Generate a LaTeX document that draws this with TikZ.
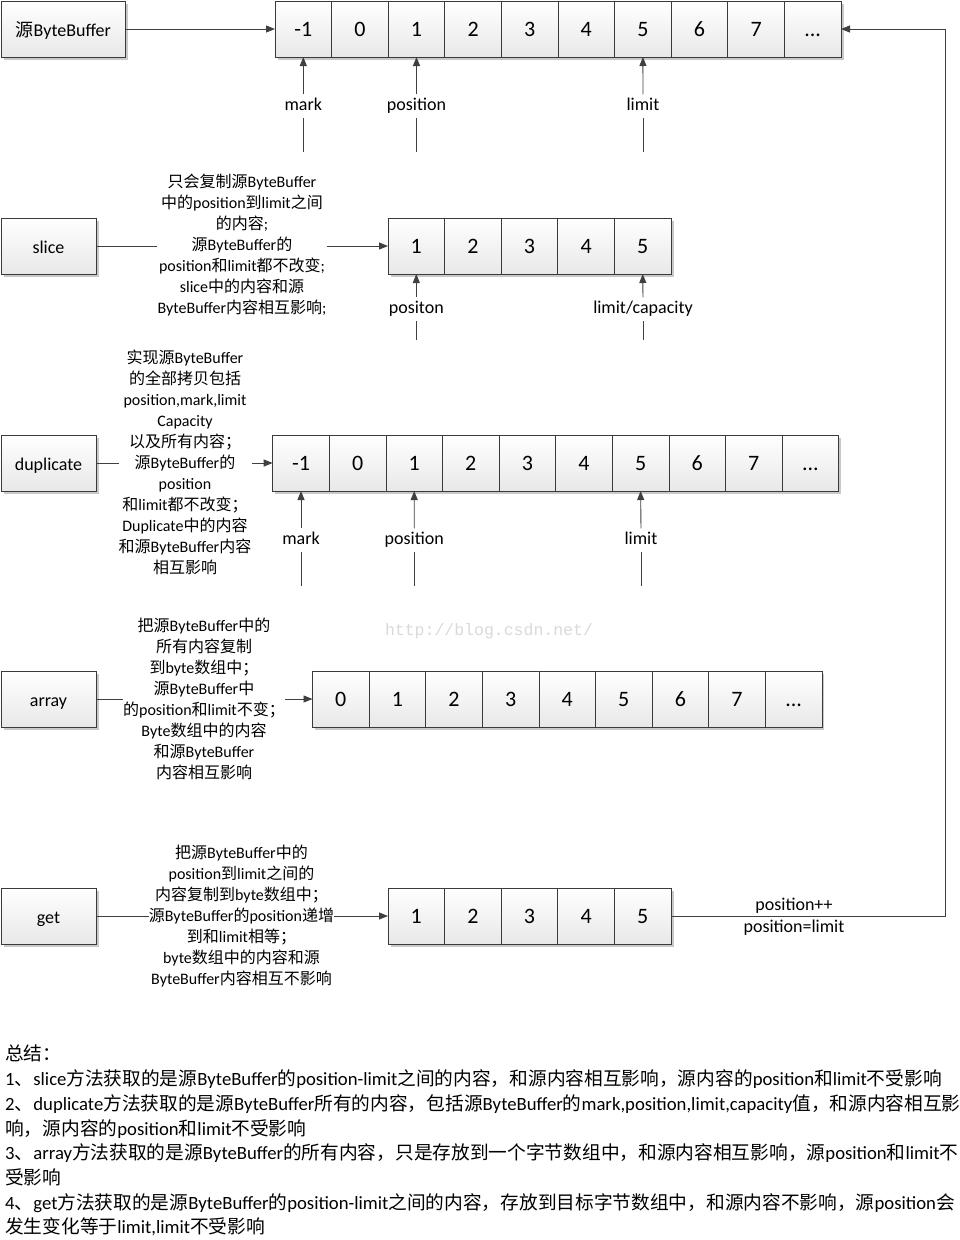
\documentclass[tikz,border=0pt]{standalone}
\usepackage{fontspec}
\setmainfont{Carlito}
\newfontfamily\cjkf{Noto Sans CJK SC}
\newfontfamily\wmf{Liberation Mono}
\usetikzlibrary{arrows.meta,shadows}
\newXeTeXintercharclass\CJKcls
\newcount\cjkc
\def\setcjkrange#1#2{\cjkc=#1\relax\loop\XeTeXcharclass\cjkc=\CJKcls\relax\ifnum\cjkc<#2\advance\cjkc by 1\repeat}
\setcjkrange{"4E00}{"9FFF}
\setcjkrange{"3000}{"303F}
\setcjkrange{"FF00}{"FFEF}
\XeTeXinterchartoks 0 \CJKcls = {\cjkf}
\XeTeXinterchartoks 4095 \CJKcls = {\cjkf}
\XeTeXinterchartoks \CJKcls 0 = {\rmfamily}
\XeTeXinterchartoks \CJKcls 4095 = {\rmfamily}
\XeTeXinterchartokenstate=1
\newcommand\tdots{...}
\definecolor{linec}{HTML}{404040}
\definecolor{cellb}{HTML}{3A3A3A}
\definecolor{wm}{HTML}{DADADA}
\tikzset{
  shad/.style={drop shadow={shadow xshift=2.5pt,shadow yshift=-2.5pt,fill=black!35,opacity=0.6}},
  cell/.style={draw=cellb,line width=0.8pt,top color=white,bottom color=black!9,shad,
    minimum width=56.6pt,minimum height=56pt,inner sep=0pt,outer sep=0pt,anchor=north west,
    text height=15pt,text depth=0pt,font=\fontsize{22}{24}\selectfont},
  lbox/.style={draw=cellb,line width=0.8pt,top color=white,bottom color=black!9,shad,
    minimum height=56pt,inner sep=0pt,outer sep=0pt,anchor=north west,
    text height=15pt,text depth=1pt,font=\fontsize{18}{20}\selectfont},
  ptr/.style={font=\fontsize{18}{20}\selectfont,inner sep=3pt,text height=13pt,text depth=4pt},
  desc/.style={align=center,font=\fontsize{16}{21}\selectfont,inner sep=0pt},
  ln/.style={draw=linec,line width=0.9pt},
  arr/.style={draw=linec,line width=0.9pt,-{Triangle[length=9pt,width=7pt]}},
  sumt/.style={anchor=base west,inner sep=0pt,font=\fontsize{18.7}{22}\selectfont},
}
\begin{document}
\begin{tikzpicture}[x=1pt,y=-1pt]
\fill[white] (0,0) rectangle (960,1240);
\useasboundingbox (0,0) rectangle (960,1240);

% ---------- row 1: source buffer ----------
\node[lbox,minimum width=124.5pt] (src) at (1,1) {源ByteBuffer};
\foreach \t [count=\i from 0] in {-1,0,1,2,3,4,5,6,7,\tdots}
  \node[cell] (r\i) at ({275+56.6*\i},1) {\t};
\draw[arr] (src.east) -- (r0.west);
\node[ptr] (pm1) at (303.3,106) {mark};
\node[ptr] (pp1) at (416.5,106) {position};
\node[ptr] (pl1) at (643,106) {limit};
\coordinate (bm1) at (303.3,152);
\coordinate (bp1) at (416.5,152);
\coordinate (bl1) at (643,152);
\draw[ln] (bm1) -- (pm1.south); \draw[arr] (pm1.north) -- (r0.south);
\draw[ln] (bp1) -- (pp1.south); \draw[arr] (pp1.north) -- (r2.south);
\draw[ln] (bl1) -- (pl1.south); \draw[arr] (pl1.north) -- (r6.south);

% ---------- row 2: slice ----------
\node[lbox,minimum width=95pt] (slice) at (1,218) {slice};
\foreach \t [count=\i from 0] in {1,2,3,4,5}
  \node[cell] (s\i) at ({388+56.6*\i},218) {\t};
\node[desc] (sd) at (242,245.5) {只会复制源ByteBuffer\\中的position到limit之间\\的内容;\\源ByteBuffer的\\position和limit都不改变;\\slice中的内容和源\\ByteBuffer内容相互影响;};
\draw[ln] (slice.east) -- (sd.west |- slice.east);
\draw[arr] (sd.east |- slice.east) -- (s0.west);
\node[ptr] (pp2) at (416.3,309) {positon};
\node[ptr] (pl2) at (643,309) {limit/capacity};
\coordinate (bp2) at (416.3,340);
\coordinate (bl2) at (643,340);
\draw[ln] (bp2) -- (pp2.south); \draw[arr] (pp2.north) -- (s0.south);
\draw[ln] (bl2) -- (pl2.south); \draw[arr] (pl2.north) -- (s4.south);

% ---------- row 3: duplicate ----------
\node[lbox,minimum width=95pt] (dup) at (1,435) {duplicate};
\foreach \t [count=\i from 0] in {-1,0,1,2,3,4,5,6,7,\tdots}
  \node[cell] (d\i) at ({272.7+56.6*\i},435) {\t};
\node[desc] (dd) at (185,462) {实现源ByteBuffer\\的全部拷贝包括\\position,mark,limit\\Capacity\\以及所有内容；\\源ByteBuffer的\\position\\和limit都不改变；\\Duplicate中的内容\\和源ByteBuffer内容\\相互影响};
\draw[ln] (dup.east) -- (dd.west |- dup.east);
\draw[arr] (dd.east |- dup.east) -- (d0.west);
\node[ptr] (pm3) at (301,540) {mark};
\node[ptr] (pp3) at (414.2,540) {position};
\node[ptr] (pl3) at (641,540) {limit};
\coordinate (bm3) at (301,586);
\coordinate (bp3) at (414.2,586);
\coordinate (bl3) at (641,586);
\draw[ln] (bm3) -- (pm3.south); \draw[arr] (pm3.north) -- (d0.south);
\draw[ln] (bp3) -- (pp3.south); \draw[arr] (pp3.north) -- (d2.south);
\draw[ln] (bl3) -- (pl3.south); \draw[arr] (pl3.north) -- (d6.south);

% watermark
\node[text=wm,font=\wmf\fontsize{16.5}{18}\selectfont,inner sep=0pt] (wmark) at (489,631) {http://blog.csdn.net/};

% ---------- row 4: array ----------
\node[lbox,minimum width=95pt] (arrb) at (1,671) {array};
\foreach \t [count=\i from 0] in {0,1,2,3,4,5,6,7,\tdots}
  \node[cell] (a\i) at ({312.5+56.6*\i},671) {\t};
\node[desc] (ad) at (204,698.5) {把源ByteBuffer中的\\所有内容复制\\到byte数组中；\\源ByteBuffer中\\的position和limit不变；\\Byte数组中的内容\\和源ByteBuffer\\内容相互影响};
\draw[ln] (arrb.east) -- (ad.west |- arrb.east);
\draw[arr] (ad.east |- arrb.east) -- (a0.west);

% ---------- row 5: get ----------
\node[lbox,minimum width=95pt] (get) at (1,888) {get};
\foreach \t [count=\i from 0] in {1,2,3,4,5}
  \node[cell] (g\i) at ({388+56.6*\i},888) {\t};
\node[desc] (gd) at (241.5,916) {把源ByteBuffer中的\\position到limit之间的\\内容复制到byte数组中；\\源ByteBuffer的position递增\\到和limit相等；\\byte数组中的内容和源\\ByteBuffer内容相互不影响};
\draw[ln] (get.east) -- (gd.west |- get.east);
\draw[arr] (gd.east |- get.east) -- (g0.west);
\coordinate (c1) at (945,916);
\coordinate (c2) at (945,29);
\draw[arr] (g4.east) -- (c1) -- (c2) -- (r9.east);
\node[ptr,inner sep=0pt] (lpp) at (794,906) {position++};
\node[ptr,inner sep=0pt] (lpl) at (794,928) {position=limit};

% ---------- summary ----------
\node[sumt] (t0) at (5,1060) {总结：};
\node[sumt] (t1) at (5,1085) {1、slice方法获取的是源ByteBuffer的position-limit之间的内容，和源内容相互影响，源内容的position和limit不受影响};
\node[sumt] (t2) at (5,1110) {2、duplicate方法获取的是源ByteBuffer所有的内容，包括源ByteBuffer的mark,position,limit,capacity值，和源内容相互影};
\node[sumt] (t3) at (5,1135) {响，源内容的position和limit不受影响};
\node[sumt] (t4) at (5,1159) {3、array方法获取的是源ByteBuffer的所有内容，只是存放到一个字节数组中，和源内容相互影响，源position和limit不};
\node[sumt] (t5) at (5,1184) {受影响};
\node[sumt] (t6) at (5,1209) {4、get方法获取的是源ByteBuffer的position-limit之间的内容，存放到目标字节数组中，和源内容不影响，源position会};
\node[sumt] (t7) at (5,1233) {发生变化等于limit,limit不受影响};
\end{tikzpicture}
\end{document}
